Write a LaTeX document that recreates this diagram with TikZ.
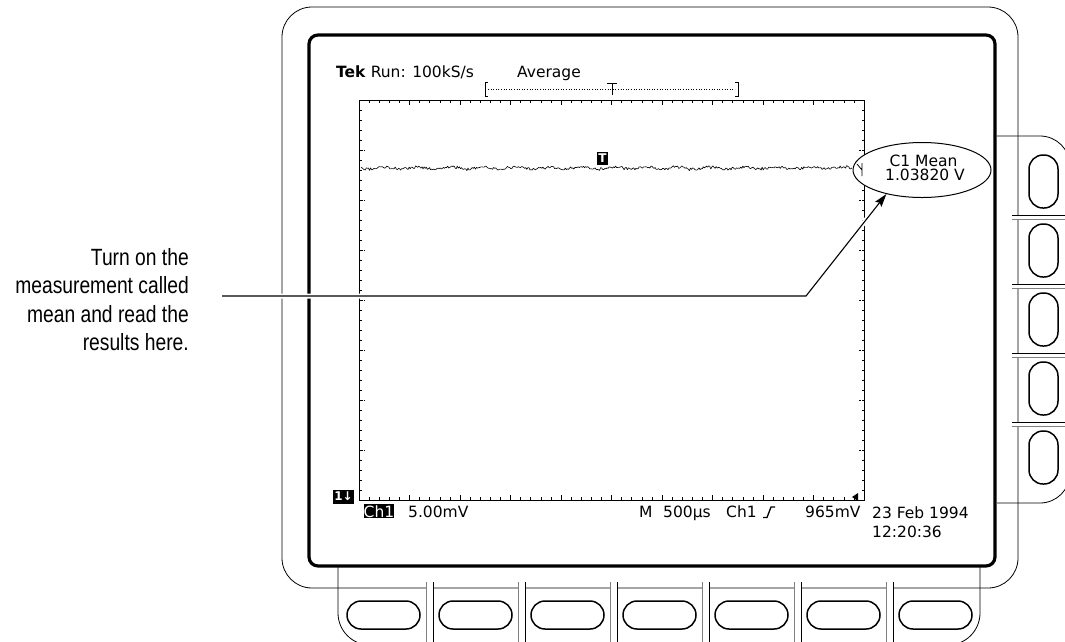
\documentclass[tikz,border=0pt]{standalone}
\usepackage{fontspec}
\newfontfamily\scrfont{DejaVu Sans}
\newfontfamily\narrowfont[FakeStretch=0.82]{Liberation Sans}
\usetikzlibrary{arrows.meta,shapes.geometric}
\begin{document}
\begin{tikzpicture}[x=1pt,y=-1pt,
  bezel/.style={line width=0.8pt},
  screenframe/.style={line width=3.2pt, rounded corners=9pt},
  btn/.style={draw, line width=1.5pt, minimum width=73pt, minimum height=28pt, rounded corners=14pt, inner sep=0pt},
  sbtn/.style={draw, line width=1.5pt, minimum width=29pt, minimum height=53pt, rounded corners=14pt, inner sep=0pt},
  scr/.style={font=\scrfont\fontsize{15.5}{17}\selectfont, inner sep=0pt},
  inv/.style={fill=black, text=white, inner sep=0pt},
  tick/.style={line width=0.6pt},
  callout/.style={line width=1.1pt, -{Stealth[length=13pt,width=8pt,inset=2pt]}},
  halo/.style={white, line width=5pt}
]
\useasboundingbox (0,0) rectangle (1065,641);
% outer bezel
\draw[bezel, rounded corners=30pt] (282,7) rectangle (1018,588);
% bottom button panel
\draw[bezel, rounded corners=32pt] (338,567) -- (338,645) -- (980,645) -- (980,567);
% side button panel
\draw[bezel, rounded corners=30pt] (997,136) -- (1070,136) -- (1070,503) -- (997,503);
% bottom dividers
\foreach \m in {429.5,521.5,613.5,705.5,797.5,889.5} {
  \fill[white] (\m-3,583) rectangle (\m+3,645);
  \draw[gray, line width=0.9pt] (\m-3.5,582) -- (\m-3.5,645);
  \draw[line width=0.6pt] (\m+3.5,582) -- (\m+3.5,645);
}
% side dividers
\foreach \m in {217,286,355,424} {
  \fill[white] (1013,\m-1.5) rectangle (1070,\m+1.5);
  \draw[line width=0.6pt] (1012,\m-2) -- (1070,\m-2);
  \draw[gray, line width=0.9pt] (1012,\m+2) -- (1070,\m+2);
}
% buttons
\foreach \i in {0,...,6} {
  \node[btn] (b\i) at ({383.5+92*\i},615) {};
}
\foreach \i in {0,...,4} {
  \node[sbtn] (s\i) at (1043.5,{181.5+69*\i}) {};
}
% screen frame
\draw[screenframe] (309,35) rectangle (995,566);
% graticule
\draw[line width=0.8pt] (359,100) rectangle (864,500);
\foreach \i in {1,...,49} {
  \draw[tick] ({359+10.1*\i},100) -- ++(0,3);
  \draw[tick] ({359+10.1*\i},500) -- ++(0,-3);
}
\foreach \i in {5,10,...,45} {
  \draw[tick] ({359+10.1*\i},100) -- ++(0,5);
  \draw[tick] ({359+10.1*\i},500) -- ++(0,-5);
}
\foreach \j in {1,...,39} {
  \draw[tick] (359,{100+10*\j}) -- ++(2.5,0);
  \draw[tick] (864,{100+10*\j}) -- ++(-2.5,0);
}
\foreach \j in {5,10,...,35} {
  \draw[tick, densely dotted] (359,{100+10*\j}) -- ++(5,0);
  \draw[tick, densely dotted] (864,{100+10*\j}) -- ++(-5,0);
}
% waveform
\pgfmathsetseed{12}
\draw[line width=0.6pt, line join=bevel] plot[domain=361:852, samples=460] (\x,{168+1.0*sin(11*\x)+2.0*rand*rand*rand+1.2*rand});
% trigger marker
\node[inv, font=\scrfont\bfseries\fontsize{12}{12}\selectfont, minimum width=11pt, minimum height=13pt] (tmark) at (602.5,158.5) {T};
% trigger position bar
\draw[line width=1pt] (488,82) -- (485,82) -- (485,96) -- (488,96);
\draw[dotted, line width=0.6pt] (488,89) -- (735,89);
\draw[line width=1pt] (607,83) -- (617,83) (612,83) -- (612,95);
\draw[line width=1pt] (735,82) -- (738,82) -- (738,96) -- (735,96);
% header texts
\node[scr, anchor=base west] (tek) at (336,77) {\textbf{Tek} Run: 100kS/s};
\node[scr, anchor=base west] (avg) at (517,77) {Average};
% ground marker
\node[inv, font=\scrfont\bfseries\fontsize{12}{12}\selectfont, inner xsep=1pt, minimum height=14pt] (gnd) at (343.5,496.5) {1↓};
% bottom readouts
\node[scr, inv, anchor=base west, inner ysep=1pt] (ch1) at (363.5,517) {Ch1};
\node[scr, anchor=base west] (vdiv) at (408,517) {5.00mV};
\node[scr, anchor=base west] (mlab) at (639,517) {M};
\node[scr, anchor=base west] (tdiv) at (663,517) {500µs};
\node[scr, anchor=base west] (trch) at (726,517) {Ch1};
\draw[line width=1.3pt] (763,517.5) -- (767,517.5) -- (771,507) -- (775,507);
\node[scr, anchor=base west] (tlev) at (805,517) {965mV};
\fill (852,497) -- (858,493) -- (858,501) -- cycle;
\node[scr, anchor=base west] (date) at (872,518) {23 Feb 1994};
\node[scr, anchor=base west] (time) at (872,537) {12:20:36};
% measurement readout
\node[ellipse, draw, fill=white, line width=1pt, minimum width=138pt, minimum height=55pt, inner sep=0pt] (meas) at (922,170) {};
\node[scr, anchor=base] (mname) at (923.5,166) {C1 Mean};
\node[scr, anchor=base] (mval) at (925,180) {1.03820 V};
\draw[line width=0.8pt] (857,164) -- (862,170) (862,163) -- (862,176);
% note text
\node[font=\narrowfont\fontsize{23.5}{28.5}\selectfont, align=right, anchor=north east, inner sep=0pt] (note) at (189,248) {Turn on the\\measurement called\\mean and read the\\results here.};
% callout
\coordinate (cstart) at (222,296);
\coordinate (bend) at (806,296);
\draw[halo, shorten >=15pt] (cstart) -- (bend) -- (meas.214);
\draw[callout] (cstart) -- (bend) -- (meas.214);
\end{tikzpicture}
\end{document}
